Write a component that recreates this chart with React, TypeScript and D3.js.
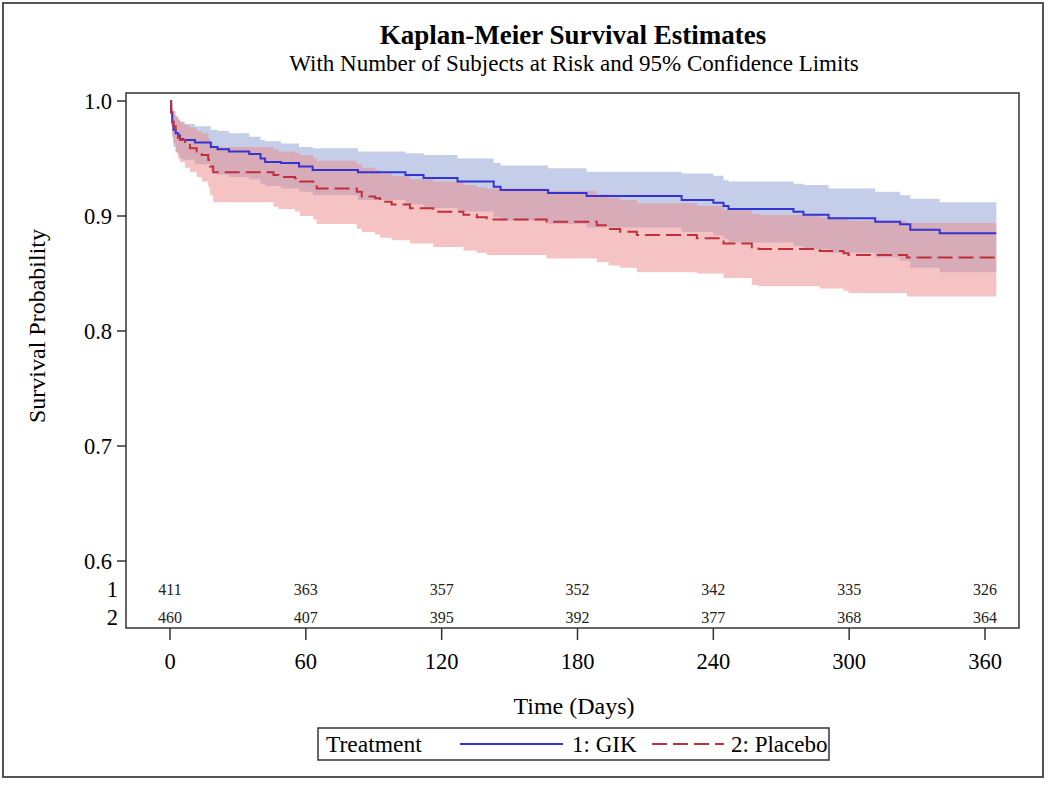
import React from 'react';
import * as d3 from 'd3';

// ---- Data ----
const gikTime = [0, 0.5, 1, 1.5, 2.5, 3.7, 4.4, 5.9, 11, 18, 21, 26, 35, 40, 42, 49, 57, 63, 83, 104, 112, 127, 143, 146, 167, 184, 226, 240, 244.5, 246.7, 275.4, 279.8, 290.9, 311.5, 322.5, 327, 340];
const gikSurv = [1, 0.990, 0.982, 0.975, 0.972, 0.970, 0.967, 0.966, 0.964, 0.960, 0.958, 0.956, 0.954, 0.950, 0.947, 0.946, 0.943, 0.940, 0.938, 0.9357, 0.933, 0.930, 0.9255, 0.9226, 0.920, 0.9174, 0.914, 0.9116, 0.9087, 0.906, 0.9037, 0.901, 0.898, 0.895, 0.8928, 0.888, 0.885];
const gikLower = [1, 0.978, 0.968, 0.960, 0.956, 0.953, 0.950, 0.949, 0.945, 0.939, 0.936, 0.934, 0.932, 0.928, 0.926, 0.924, 0.921, 0.918, 0.914, 0.910, 0.907, 0.904, 0.899, 0.896, 0.893, 0.890, 0.886, 0.883, 0.880, 0.877, 0.874, 0.871, 0.868, 0.864, 0.861, 0.855, 0.851];
const gikUpper = [1, 0.997, 0.992, 0.988, 0.986, 0.984, 0.982, 0.980, 0.978, 0.975, 0.974, 0.972, 0.969, 0.966, 0.965, 0.963, 0.960, 0.959, 0.956, 0.9545, 0.953, 0.950, 0.946, 0.944, 0.9415, 0.9385, 0.937, 0.935, 0.931, 0.930, 0.928, 0.927, 0.924, 0.921, 0.918, 0.915, 0.912];

const plaTime = [0, 0.5, 1, 1.5, 2.5, 3.5, 4.4, 6.6, 8.8, 11.8, 14, 16.9, 17.7, 19.1, 45.7, 47.9, 55.2, 57.4, 63.3, 64.8, 82.5, 84.7, 90.6, 92.8, 97.9, 106, 116.3, 129.6, 135.5, 139.9, 166.4, 188.5, 193.7, 198.8, 206.2, 232.7, 244.5, 257, 260, 287, 297.5, 299.7, 325.5];
const plaSurv = [1, 0.990, 0.982, 0.978, 0.972, 0.968, 0.966, 0.9617, 0.9589, 0.956, 0.953, 0.9487, 0.943, 0.938, 0.9357, 0.934, 0.9328, 0.930, 0.927, 0.924, 0.921, 0.917, 0.9154, 0.9124, 0.910, 0.9067, 0.9037, 0.901, 0.899, 0.897, 0.895, 0.892, 0.8887, 0.8864, 0.8835, 0.8806, 0.876, 0.8728, 0.8713, 0.8696, 0.8676, 0.866, 0.864];
const plaUpper = [1, 0.998, 0.994, 0.991, 0.987, 0.984, 0.982, 0.979, 0.977, 0.974, 0.972, 0.968, 0.964, 0.960, 0.958, 0.956, 0.955, 0.953, 0.950, 0.948, 0.945, 0.942, 0.940, 0.937, 0.935, 0.932, 0.930, 0.927, 0.925, 0.924, 0.922, 0.919, 0.916, 0.914, 0.911, 0.909, 0.905, 0.902, 0.901, 0.899, 0.897, 0.896, 0.894];
const plaLower = [1, 0.980, 0.970, 0.963, 0.955, 0.950, 0.947, 0.942, 0.938, 0.934, 0.930, 0.925, 0.918, 0.912, 0.908, 0.906, 0.904, 0.900, 0.897, 0.893, 0.889, 0.886, 0.884, 0.881, 0.879, 0.876, 0.873, 0.870, 0.868, 0.866, 0.863, 0.860, 0.857, 0.855, 0.851, 0.850, 0.846, 0.840, 0.839, 0.837, 0.835, 0.833, 0.830];

const endTime = 365;
const xTicks = [0, 60, 120, 180, 240, 300, 360];
const yTicks = [0.6, 0.7, 0.8, 0.9, 1.0];
const atRiskTimes = [0, 60, 120, 180, 240, 300, 360];
const gikAtRisk = [411, 363, 357, 352, 342, 335, 326];
const plaAtRisk = [460, 407, 395, 392, 377, 368, 364];
const groupLabels = ['1', '2'];
const legendLabels = ['1: GIK', '2: Placebo'];

const FONT = '"Liberation Serif", "Times New Roman", serif';

type Pt = { t: number; s: number; lo: number; hi: number };

function build(t: number[], s: number[], lo: number[], hi: number[]): Pt[] {
  const pts = t.map((tt, i) => ({ t: tt, s: s[i], lo: lo[i], hi: hi[i] }));
  const last = pts[pts.length - 1];
  pts.push({ ...last, t: endTime });
  return pts;
}

export default function App() {
  const x = d3.scaleLinear().domain([0, 360]).range([170, 985]);
  const y = d3.scaleLinear().domain([0.6, 1.0]).range([561, 101]);

  const gik = build(gikTime, gikSurv, gikLower, gikUpper);
  const pla = build(plaTime, plaSurv, plaLower, plaUpper);

  const line = d3.line<Pt>().x(d => x(d.t)).y(d => y(d.s)).curve(d3.curveStepAfter);
  const area = d3.area<Pt>().x(d => x(d.t)).y0(d => y(d.lo)).y1(d => y(d.hi)).curve(d3.curveStepAfter);

  const plotL = 126, plotT = 93, plotR = 1019, plotB = 628;
  const riskRows = [589, 617];

  return (
    <svg width={1050} height={789} style={{ position: 'absolute', left: 0, top: 0, background: '#fff' }} fontFamily={FONT}>
      <rect x={0} y={0} width={1050} height={789} fill="#fff" />
      <rect x={3} y={3} width={1040} height={774} fill="none" stroke="#555" strokeWidth={2} />

      <text x={573} y={44} textAnchor="middle" fontSize={27} fontWeight="bold" fill="#000">Kaplan-Meier Survival Estimates</text>
      <text x={574} y={71} textAnchor="middle" fontSize={23} fill="#000">With Number of Subjects at Risk and 95% Confidence Limits</text>

      {/* bands */}
      <path d={area(gik) || ''} fill="rgb(137,157,209)" fillOpacity={0.5} stroke="none" />
      <path d={area(pla) || ''} fill="rgb(235,135,135)" fillOpacity={0.5} stroke="none" />

      {/* curves */}
      <path d={line(gik) || ''} fill="none" stroke="#3434d2" strokeWidth={2} />
      <path d={line(pla) || ''} fill="none" stroke="#c0303c" strokeWidth={2} strokeDasharray="15 6" />

      {/* frame */}
      <rect x={plotL} y={plotT} width={plotR - plotL} height={plotB - plotT} fill="none" stroke="#333" strokeWidth={1.5} />

      {/* y ticks */}
      {yTicks.map(v => (
        <g key={v}>
          <line x1={plotL - 9} x2={plotL} y1={y(v)} y2={y(v)} stroke="#333" strokeWidth={1.5} />
          <text x={plotL - 14} y={y(v)} dy="0.35em" textAnchor="end" fontSize={22.5} fill="#000">{v.toFixed(1)}</text>
        </g>
      ))}

      {/* x ticks */}
      {xTicks.map(t => (
        <g key={t}>
          <line x1={x(t)} x2={x(t)} y1={plotB} y2={plotB + 12} stroke="#333" strokeWidth={1.5} />
          <text x={x(t)} y={669} textAnchor="middle" fontSize={22.5} fill="#000">{t}</text>
        </g>
      ))}

      {/* at-risk table */}
      {groupLabels.map((g, i) => (
        <text key={g} x={plotL - 8} y={riskRows[i]} dy="0.35em" textAnchor="end" fontSize={22.5} fill="#000">{g}</text>
      ))}
      {atRiskTimes.map((t, i) => (
        <g key={t}>
          <text x={x(t)} y={riskRows[0]} dy="0.35em" textAnchor="middle" fontSize={16} fill="#222">{gikAtRisk[i]}</text>
          <text x={x(t)} y={riskRows[1]} dy="0.35em" textAnchor="middle" fontSize={16} fill="#222">{plaAtRisk[i]}</text>
        </g>
      ))}

      {/* axis labels */}
      <text x={574} y={714} textAnchor="middle" fontSize={24} fill="#000">Time (Days)</text>
      <text transform="translate(45,326) rotate(-90)" textAnchor="middle" fontSize={24} fill="#000">Survival Probability</text>

      {/* legend */}
      <rect x={318} y={728} width={511} height={32} fill="#fff" stroke="#333" strokeWidth={1.5} />
      <text x={326} y={752} fontSize={23.5} fill="#000">Treatment</text>
      <line x1={460} x2={563} y1={744} y2={744} stroke="#3434d2" strokeWidth={2} />
      <text x={572} y={752} fontSize={23} fill="#000">{legendLabels[0]}</text>
      <line x1={652} x2={724} y1={744} y2={744} stroke="#c0303c" strokeWidth={2} strokeDasharray="15 6" />
      <text x={731} y={752} fontSize={23} fill="#000">{legendLabels[1]}</text>
    </svg>
  );
}
